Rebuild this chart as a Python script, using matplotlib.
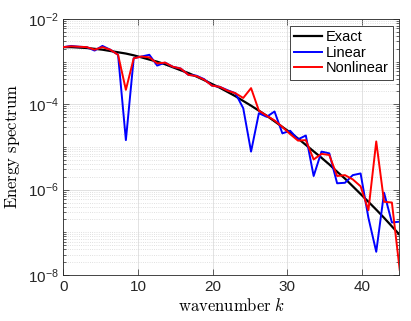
import numpy as np
import matplotlib
matplotlib.use('Agg')
import matplotlib.pyplot as plt

plt.rcParams['font.family'] = ['Liberation Sans', 'DejaVu Sans']
plt.rcParams['mathtext.fontset'] = 'custom'
plt.rcParams['mathtext.rm'] = 'Liberation Sans'
plt.rcParams['mathtext.default'] = 'regular'

# wavenumbers (spacing pi/3)
k = np.arange(44) * np.pi / 3

exact = [2.19e-3, 2.19e-3, 2.14e-3, 2.09e-3, 2.00e-3, 1.91e-3, 1.78e-3, 1.66e-3,
         1.55e-3, 1.41e-3, 1.26e-3, 1.12e-3, 1.00e-3, 8.7e-4, 7.4e-4, 6.3e-4,
         5.4e-4, 4.5e-4, 3.7e-4, 3.0e-4, 2.45e-4, 1.95e-4, 1.55e-4, 1.20e-4,
         9.3e-5, 7.1e-5, 5.4e-5, 4.0e-5, 2.95e-5, 2.19e-5, 1.58e-5, 1.12e-5,
         7.9e-6, 5.6e-6, 3.9e-6, 2.63e-6, 1.82e-6, 1.20e-6, 7.9e-7, 5.2e-7,
         3.4e-7, 2.19e-7, 1.38e-7, 8.7e-8]

linear = [2.19e-3, 2.34e-3, 2.24e-3, 2.19e-3, 1.82e-3, 2.34e-3, 1.91e-3, 1.45e-3,
          1.45e-5, 1.20e-3, 1.32e-3, 1.45e-3, 8.1e-4, 9.5e-4, 7.6e-4, 6.9e-4,
          4.9e-4, 4.7e-4, 3.9e-4, 2.75e-4, 2.57e-4, 2.14e-4, 1.82e-4, 8.1e-5,
          7.8e-6, 6.2e-5, 5.1e-5, 6.8e-5, 2.09e-5, 2.40e-5, 1.51e-5, 1.86e-5,
          2.09e-6, 7.8e-6, 7.1e-6, 1.41e-6, 1.45e-6, 2.19e-6, 2.40e-6, 2.19e-7,
          3.5e-8, 8.5e-7, 1.70e-7, 1.78e-7]

nonlinear = [2.19e-3, 2.29e-3, 2.24e-3, 2.19e-3, 1.91e-3, 2.19e-3, 1.91e-3, 1.45e-3,
             2.19e-4, 1.20e-3, 1.32e-3, 1.26e-3, 9.1e-4, 9.5e-4, 7.6e-4, 6.9e-4,
             4.9e-4, 4.6e-4, 3.8e-4, 2.75e-4, 2.57e-4, 2.09e-4, 1.82e-4, 1.41e-4,
             2.40e-4, 7.1e-5, 5.4e-5, 4.2e-5, 2.95e-5, 2.00e-5, 1.41e-5, 1.45e-5,
             5.1e-6, 6.9e-6, 6.5e-6, 2.09e-6, 2.19e-6, 1.74e-6, 1.20e-6, 3.3e-7,
             1.35e-5, 5.2e-7, 5.0e-7, 1.32e-8]

fig = plt.figure(figsize=(4.11, 3.21), dpi=100)
ax = fig.add_axes([0.154, 0.1433, 0.818, 0.7975])

ax.semilogy(k, exact, color='k', lw=1.6, label='Exact', zorder=3)
ax.semilogy(k, linear, color='#0000ff', lw=1.4, label='Linear', zorder=4)
ax.semilogy(k, nonlinear, color='#ff0000', lw=1.4, label='Nonlinear', zorder=5)

ax.set_xlim(0, 45)
ax.set_ylim(1e-8, 1e-2)
ax.set_xticks([0, 10, 20, 30, 40])
majors = [1e-8, 1e-6, 1e-4, 1e-2]
ax.set_yticks(majors)
ax.set_yticklabels(['10$^{%d}$' % int(np.log10(v)) for v in majors])
minors = [j * 10.0 ** e for e in range(-8, -2) for j in range(1, 10)]
minors = [m for m in minors if not any(abs(m - M) / M < 1e-6 for M in majors)]
ax.set_yticks(minors, minor=True)
ax.set_yticklabels([], minor=True)

ax.grid(True, which='major', color='#e2e2e2', lw=0.7, ls='-', zorder=0)
ax.grid(True, which='minor', axis='y', color='#d6d6d6', lw=0.6, ls=':', zorder=0)
ax.set_axisbelow(True)

ax.tick_params(which='both', direction='in', top=True, right=True,
               color='0.15', labelcolor='0.15', labelsize=11)
ax.tick_params(which='major', length=4, width=0.5)
ax.tick_params(which='minor', length=2, width=0.5)
for s in ax.spines.values():
    s.set_color('0.15')
    s.set_linewidth(0.6)

xl = ax.set_xlabel(r'$\mathrm{wavenumber}\ \mathit{k}$', fontsize=12)
yl = ax.set_ylabel(r'$\mathrm{Energy\ spectrum}$', fontsize=12)
for t in (xl, yl):
    t.set_math_fontfamily('cm')
ax.xaxis.labelpad = 2
ax.yaxis.labelpad = 4

leg = ax.legend(loc='upper right', fontsize=10.5, fancybox=False, framealpha=1,
                edgecolor='0.15', handlelength=1.9, handletextpad=0.25,
                borderpad=0.3, labelspacing=0.12, borderaxespad=0.45)
leg.get_frame().set_linewidth(0.6)

fig.savefig('out.png', dpi=100)
